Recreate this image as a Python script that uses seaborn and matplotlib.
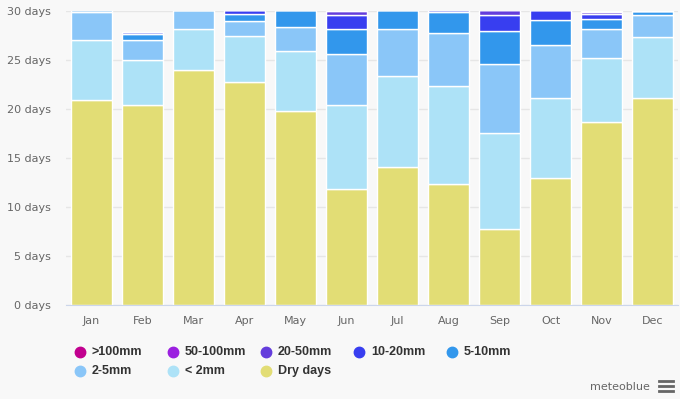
import pandas as pd
import matplotlib.pyplot as plt
from matplotlib.lines import Line2D
import seaborn as sns

months = ['Jan', 'Feb', 'Mar', 'Apr', 'May', 'Jun', 'Jul', 'Aug', 'Sep', 'Oct', 'Nov', 'Dec']
categories = ['>100mm', '50-100mm', '20-50mm', '10-20mm', '5-10mm', '2-5mm', '< 2mm', 'Dry days']

gt100 = [0.0, 0.0, 0.0, 0.0, 0.0, 0.0, 0.0, 0.0, 0.0, 0.0, 0.0, 0.0]
mm50_100 = [0.0, 0.0, 0.0, 0.0, 0.0, 0.1, 0.0, 0.0, 0.0, 0.0, 0.1, 0.0]
mm20_50 = [0.0, 0.0, 0.0, 0.0, 0.0, 0.4, 0.0, 0.0, 0.5, 0.0, 0.2, 0.0]
mm10_20 = [0.0, 0.2, 0.0, 0.4, 0.0, 1.4, 0.0, 0.2, 1.6, 1.0, 0.5, 0.0]
mm5_10 = [0.2, 0.7, 0.0, 0.7, 1.7, 2.6, 1.9, 2.1, 3.4, 2.6, 1.0, 0.4]
mm2_5 = [2.9, 2.0, 1.9, 1.6, 2.5, 5.2, 4.8, 5.5, 7.0, 5.4, 3.0, 2.3]
lt2 = [6.1, 4.6, 4.2, 4.6, 6.1, 8.6, 9.3, 10.0, 9.8, 8.1, 6.5, 6.2]
dry = [20.9, 20.4, 24.0, 22.8, 19.8, 11.8, 14.1, 12.3, 7.8, 13.0, 18.7, 21.1]

colors = ['#c1008f', '#9b20e0', '#643ddc', '#383ef0', '#3297ec', '#8ac6f8', '#ade2f7', '#e2dd75']

series = [gt100, mm50_100, mm20_50, mm10_20, mm5_10, mm2_5, lt2, dry]
rows = []
for cat, vals in zip(categories, series):
    for m, v in zip(months, vals):
        rows.append({'month': m, 'type': cat, 'days': v})
df = pd.DataFrame(rows)
df['month'] = pd.Categorical(df['month'], categories=months, ordered=True)

bg = '#f8f8f8'
fig = plt.figure(figsize=(6.8, 3.99), dpi=100, facecolor=bg)
ax = fig.add_axes([66/680, 1-305/399, 612/680, 294/399])
ax.set_facecolor(bg)

sns.histplot(data=df, x='month', weights='days', hue='type', hue_order=categories,
             multiple='stack', palette=colors, shrink=0.8, discrete=True,
             alpha=1, edgecolor='white', linewidth=1, legend=False, ax=ax)

ax.set_xlim(-0.5, 11.5)
ax.set_ylim(0, 30)
ax.set_yticks([0, 5, 10, 15, 20, 25, 30])
ax.set_yticklabels([f'{v} days' for v in [0, 5, 10, 15, 20, 25, 30]])
ax.set_xlabel('')
ax.set_ylabel('')
ax.grid(axis='y', color='#e6e6e6', linewidth=1)
ax.set_axisbelow(True)
for s in ['top', 'right', 'left']:
    ax.spines[s].set_visible(False)
ax.spines['bottom'].set_color('#ccd6eb')
ax.tick_params(axis='y', length=0, labelsize=8, labelcolor='#666666', pad=11)
ax.tick_params(axis='x', length=0, labelsize=8, labelcolor='#666666', pad=8)

# legend laid out like the original (row-major, fixed spacing)
for i, (cat, c) in enumerate(zip(categories, colors)):
    col, row = i % 5, i // 5
    x = (80 + col * 93) / 680
    y = 1 - (352 + row * 19) / 399
    fig.add_artist(Line2D([x], [y], marker='o', markersize=7.5, color=c,
                          linestyle='', transform=fig.transFigure))
    fig.text(x + 12/680, y, cat, fontsize=9, fontweight='bold', color='#333333',
             family='Liberation Sans', va='center', ha='left')

fig.text(650/680, 1 - 387/399, 'meteoblue', fontsize=8, color='#666666',
         va='center', ha='right')
for k in range(3):
    fig.add_artist(Line2D([659/680, 673/680], [1 - (381 + k*5)/399] * 2,
                          color='#666666', linewidth=2, transform=fig.transFigure))

fig.savefig('out.png', dpi=100, facecolor=bg)
